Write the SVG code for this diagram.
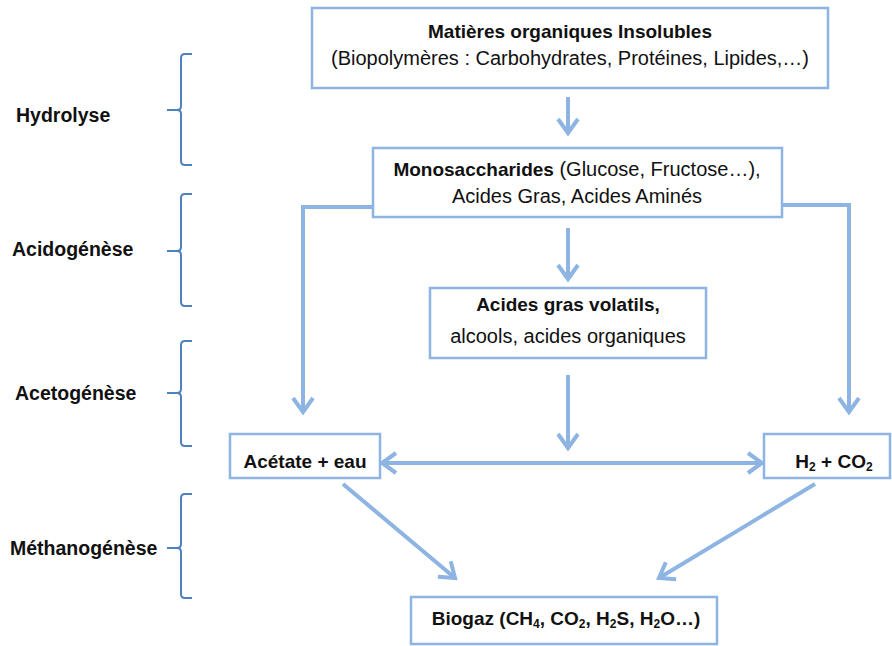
<svg xmlns="http://www.w3.org/2000/svg" width="892" height="646" viewBox="0 0 892 646">
<defs>
<style>
.box{fill:#fff;stroke:#8DB4E2;stroke-width:2.5}
.t{font-family:"Liberation Sans",Arial,sans-serif;font-size:20px;fill:#111;text-anchor:middle}
.b{font-weight:bold;font-size:19px}
.lab{font-family:"Liberation Sans",Arial,sans-serif;font-size:19.5px;font-weight:bold;fill:#111}
.arr{fill:none;stroke:#8DB4E2;stroke-width:4}
.brace{fill:none;stroke:#4F81BD;stroke-width:2}
</style>
<marker id="ah" viewBox="0 0 24 24" refX="20" refY="12" markerWidth="24" markerHeight="24" markerUnits="userSpaceOnUse" orient="auto-start-reverse">
<path d="M6,2 L20,12 L6,22" fill="none" stroke="#8DB4E2" stroke-width="4"/>
</marker>
</defs>
<rect width="892" height="646" fill="#fff"/>

<g id="braces">
<path class="brace" d="M192,54 H185 Q181,54 181,58 V106 Q181,110 177,110 H167 M177,110 Q181,110 181,114 V161 Q181,165 185,165 H192"/>
<path class="brace" d="M192,194 H185 Q181,194 181,198 V247 Q181,251 177,251 H167 M177,251 Q181,251 181,255 V302 Q181,306 185,306 H192"/>
<path class="brace" d="M192,341 H185 Q181,341 181,345 V389 Q181,393 177,393 H167 M177,393 Q181,393 181,397 V442 Q181,446 185,446 H192"/>
<path class="brace" d="M192,494 H185 Q181,494 181,498 V544 Q181,548 177,548 H167 M177,548 Q181,548 181,552 V594 Q181,598 185,598 H192"/>
</g>

<g id="stage-labels">
<text class="lab" x="16" y="122">Hydrolyse</text>
<text class="lab" x="12" y="256">Acidogénèse</text>
<text class="lab" x="15" y="400">Acetogénèse</text>
<text class="lab" x="10" y="555">Méthanogénèse</text>
</g>

<g id="connectors">
<path class="arr" d="M568,97 V133" marker-end="url(#ah)"/>
<path class="arr" d="M568,228 V279" marker-end="url(#ah)"/>
<path class="arr" d="M568,375 V448" marker-end="url(#ah)"/>
<path class="arr" d="M373,207 H303 V412" marker-end="url(#ah)"/>
<path class="arr" d="M782,205 H849 V412" marker-end="url(#ah)"/>
<path class="arr" d="M382,463 H762" marker-start="url(#ah)" marker-end="url(#ah)"/>
<path class="arr" d="M343,484 L455,578" marker-end="url(#ah)"/>
<path class="arr" d="M815,484 L659,578" marker-end="url(#ah)"/>
</g>

<g id="n-matieres">
<rect class="box" x="312" y="8" width="516" height="80"/>
<text class="t b" x="570" y="38">Matières organiques Insolubles</text>
<text class="t" x="570" y="65">(Biopolymères : Carbohydrates, Protéines, Lipides,…)</text>
</g>

<g id="n-mono">
<rect class="box" x="373" y="148" width="409" height="69"/>
<text class="t" x="577" y="176"><tspan class="b">Monosaccharides</tspan> (Glucose, Fructose…),</text>
<text class="t" x="577" y="203">Acides Gras, Acides Aminés</text>
</g>

<g id="n-agv">
<rect class="box" x="430" y="288" width="276" height="70"/>
<text class="t b" x="568" y="311">Acides gras volatils,</text>
<text class="t" x="568" y="343">alcools, acides organiques</text>
</g>

<g id="n-acetate">
<rect class="box" x="230" y="434" width="150" height="44"/>
<text class="t b" x="305" y="468">Acétate + eau</text>
</g>

<g id="n-h2co2">
<rect class="box" x="764" y="434" width="126" height="44"/>
<text class="t b" x="834" y="468">H<tspan font-size="12" dy="3">2</tspan><tspan dy="-3"> + CO</tspan><tspan font-size="12" dy="3">2</tspan></text>
</g>

<g id="n-biogaz">
<rect class="box" x="411" y="597" width="306" height="47"/>
<text class="t b" x="566" y="625">Biogaz (CH<tspan font-size="12" dy="3">4</tspan><tspan dy="-3">, CO</tspan><tspan font-size="12" dy="3">2</tspan><tspan dy="-3">, H</tspan><tspan font-size="12" dy="3">2</tspan><tspan dy="-3">S, H</tspan><tspan font-size="12" dy="3">2</tspan><tspan dy="-3">O…)</tspan></text>
</g>
</svg>
